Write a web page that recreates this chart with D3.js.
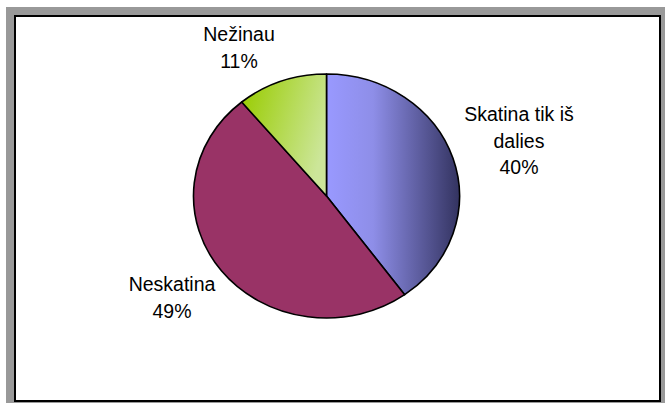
<!DOCTYPE html>
<html>
<head>
<meta charset="utf-8">
<script src="https://cdn.jsdelivr.net/npm/d3@7/dist/d3.min.js"></script>
<style>
  html, body { margin: 0; padding: 0; background: #fff; }
  svg { display: block; }
  text { font-family: "Liberation Sans", Arial, sans-serif; fill: #000; }
</style>
</head>
<body>
<script>
// Survey answers and their shares (%)
const categories = ["Skatina tik iš dalies", "Neskatina", "Nežinau"];
const values = [40, 49, 11];
const labelLines = [["Skatina tik iš", "dalies", "40%"], ["Neskatina", "49%"], ["Nežinau", "11%"]];

const W = 665, H = 403;
const svg = d3.select("body").append("svg").attr("width", W).attr("height", H);

// Gray frame and the white plot panel with a black border
svg.append("rect").attr("x", 6).attr("y", 7).attr("width", W - 6).attr("height", H - 7).attr("fill", "#999999");
svg.append("rect").attr("x", 15).attr("y", 16).attr("width", 645).attr("height", 385)
  .attr("fill", "#ffffff").attr("stroke", "#000").attr("stroke-width", 2);

// Gradients for the slices
const defs = svg.append("defs");
const gBlue = defs.append("linearGradient").attr("id", "gBlue")
  .attr("x1", 0).attr("y1", 0).attr("x2", 1).attr("y2", 0);
gBlue.append("stop").attr("offset", "0%").attr("stop-color", "#9999ff");
gBlue.append("stop").attr("offset", "35%").attr("stop-color", "#8e8ee8");
gBlue.append("stop").attr("offset", "100%").attr("stop-color", "#333360");

const gGreen = defs.append("linearGradient").attr("id", "gGreen")
  .attr("x1", 0).attr("y1", 0.1).attr("x2", 1).attr("y2", 0.5);
gGreen.append("stop").attr("offset", "0%").attr("stop-color", "#99cc00");
gGreen.append("stop").attr("offset", "100%").attr("stop-color", "#cce699");

const fills = ["url(#gBlue)", "#993366", "url(#gGreen)"];

// Elliptical pie: circular arcs stretched horizontally
const cx = 326.5, cy = 196, ry = 122, rx = 133;
const pie = d3.pie().sort(null).value(d => d)(values);
const arc = d3.arc().innerRadius(0).outerRadius(ry);

const gPie = svg.append("g")
  .attr("transform", `translate(${cx},${cy}) scale(${rx / ry},1)`);
gPie.selectAll("path").data(pie).join("path")
  .attr("d", arc)
  .attr("fill", (d, i) => fills[i])
  .attr("stroke", "#000")
  .attr("stroke-width", 1.6)
  .attr("stroke-linejoin", "round")
  .attr("vector-effect", "non-scaling-stroke");

// Data labels: centre x and first baseline for each slice
const labelPos = [[519, 121], [172, 291], [239, 41]];
const lineGap = 26.5;
labelLines.forEach((lines, i) => {
  const t = svg.append("text")
    .attr("text-anchor", "middle")
    .attr("font-size", 19.5);
  lines.forEach((s, k) => {
    t.append("tspan").attr("x", labelPos[i][0]).attr("y", labelPos[i][1] + k * lineGap).text(s);
  });
});
</script>
</body>
</html>
